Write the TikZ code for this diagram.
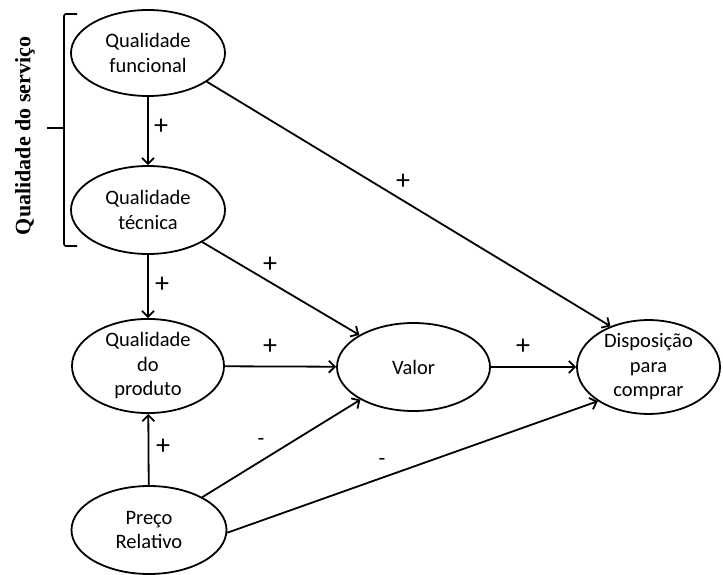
\documentclass[tikz,border=0pt]{standalone}
\usepackage{fontspec}
\setmainfont{Carlito}
\newfontfamily\serifbold{Liberation Serif}
\usetikzlibrary{shapes.geometric,arrows.meta}
\begin{document}
\begin{tikzpicture}[x=1pt,y=-1pt,
  construct/.style={draw,line width=1.8pt,ellipse,inner sep=0pt,align=center,
    font=\fontsize{20.5}{24.5}\selectfont},
  link/.style={line width=1.8pt,-{Straight Barb[length=6pt,width=12pt]}},
  sign/.style={font=\fontsize{28}{28}\selectfont,inner sep=0pt},
  minus/.style={font=\fontsize{22}{22}\selectfont,inner sep=0pt}]
\useasboundingbox (0,0) rectangle (723,575);

% constructs
\node[construct,minimum width=154pt,minimum height=86pt] (qf) at (148,53) {Qualidade\\funcional};
\node[construct,minimum width=154pt,minimum height=88pt] (qt) at (148,210) {Qualidade\\técnica};
\node[construct,minimum width=152pt,minimum height=88pt] (qp) at (148,366) {Qualidade\\do\\produto};
\node[construct,minimum width=155pt,minimum height=88pt] (pr) at (149,530) {Preço\\Relativo};
\node[construct,minimum width=153pt,minimum height=88pt] (valor) at (413.5,367) {Valor};
\node[construct,minimum width=143pt,minimum height=90pt] (disp) at (648.5,367) {Disposição\\para\\comprar};

% bracket grouping the service quality constructs
\coordinate (bt) at (77,14);
\coordinate (bb) at (77,246);
\draw[line width=1.6pt,rounded corners=2pt] (bt) -- (64,14) -- (64,246) -- (bb);
\draw[line width=1.6pt] (64,128) -- (47,128);
\node[rotate=90,font=\serifbold\bfseries\fontsize{22}{24}\selectfont,inner sep=0pt] (grp) at (25,136) {Qualidade do serviço};

% relations
\draw[link] (qf) -- (qt);
\draw[link] (qt) -- (qp);
\draw[link] (pr) -- (qp);
\draw[link] (qf.-26) -- (disp.133);
\draw[link] (qt) -- (valor);
\draw[link] (qp) -- (valor);
\draw[link] (valor) -- (disp);
\draw[link] (pr) -- (valor);
\draw[link] (pr.-2) -- (disp.214);

% signs
\node[sign] (s1) at (161,127) {+};
\node[sign] (s2) at (162,285) {+};
\node[sign] (s3) at (163,447) {+};
\node[sign] (s4) at (403,182) {+};
\node[sign] (s5) at (270,265) {+};
\node[sign] (s6) at (270,347) {+};
\node[sign] (s7) at (523,347) {+};
\node[minus] (s8) at (261,442) {-};
\node[minus] (s9) at (382,462) {-};
\end{tikzpicture}
\end{document}
